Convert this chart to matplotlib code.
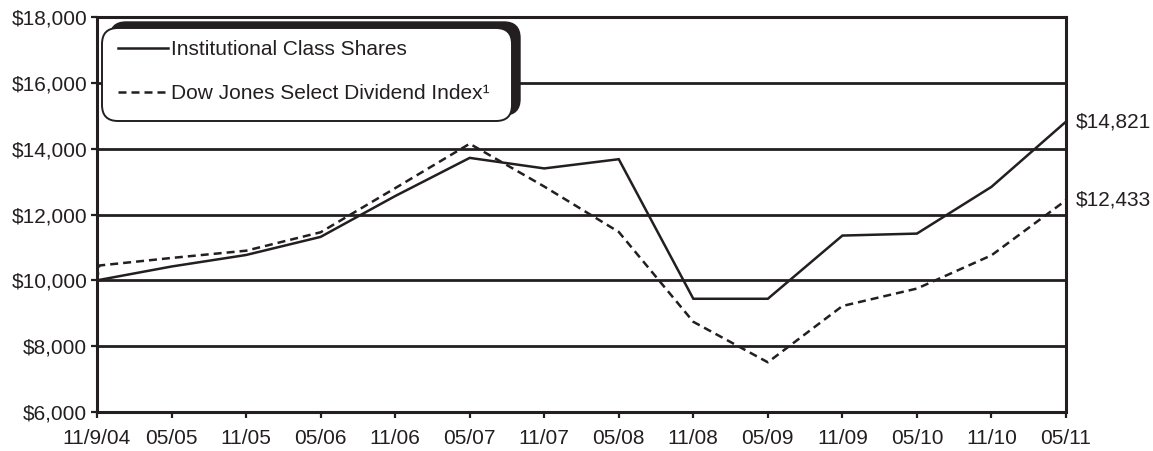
import matplotlib
matplotlib.use("Agg")
import matplotlib.pyplot as plt
from matplotlib.patches import FancyBboxPatch
from matplotlib.lines import Line2D
from matplotlib.transforms import Affine2D
from matplotlib.ticker import FuncFormatter

plt.rcParams['font.family'] = ['Liberation Sans', 'DejaVu Sans']

# Semiannual period labels
periods = ["11/9/04", "05/05", "11/05", "05/06", "11/06", "05/07", "11/07",
           "05/08", "11/08", "05/09", "11/09", "05/10", "11/10", "05/11"]

# Growth of a $10,000 investment
fund_x = list(range(14))
fund_values = [10000, 10420, 10770, 11320, 12560, 13720, 13400,
               13680, 9440, 9440, 11360, 11420, 12840, 14821]

index_x = [0, 0.03] + list(range(1, 14))
index_values = [10000, 10450, 10680, 10900, 11460, 12800, 14150, 12850,
                11470, 8740, 7510, 9220, 9750, 10760, 12433]

fund_label = "Institutional Class Shares"
index_label = "Dow Jones Select Dividend Index\u00b9"

INK = "#231f20"
W, H = 1153, 451

fig = plt.figure(figsize=(W / 100, H / 100), dpi=100)
ax = fig.add_axes([97 / W, (H - 412) / H, 969 / W, 395 / H])

ax.set_xlim(0, 13)
ax.set_ylim(6000, 18000)
ax.set_xticks(range(len(periods)))
ax.set_xticklabels(periods)
ax.set_yticks(range(6000, 18001, 2000))
ax.yaxis.set_major_formatter(FuncFormatter(lambda v, p: f"${v:,.0f}"))

ax.grid(axis='y', color=INK, linewidth=2.0, zorder=1)
ax.set_axisbelow(True)
for sp in ax.spines.values():
    sp.set_color(INK)
    sp.set_linewidth(2.2)

ax.tick_params(axis='both', direction='out', length=4, width=1.6, color=INK,
               labelsize=15, labelcolor=INK)
ax.tick_params(axis='x', pad=8.5)
ax.tick_params(axis='y', pad=3)

ax.plot(fund_x, fund_values, color=INK, linewidth=1.8, zorder=3,
        solid_joinstyle='miter', label=fund_label)
ax.plot(index_x, index_values, color=INK, linewidth=1.8, zorder=3,
        linestyle=(0, (3.2, 2.0)), label=index_label)

# End-of-period value labels
for xs, vals in ((fund_x, fund_values), (index_x, index_values)):
    ax.annotate(f"${vals[-1]:,.0f}", xy=(xs[-1], vals[-1]), xytext=(7, 0),
                textcoords='offset points', va='center', ha='left',
                fontsize=15, color=INK, annotation_clip=False)

# Legend box with heavy offset shadow, placed in figure pixel coordinates
pix = Affine2D().scale(1, -1).translate(0, H) + Affine2D().scale(1 / W, 1 / H) + fig.transFigure
shadow = FancyBboxPatch((110, 22), 410, 93, boxstyle="round,pad=0,rounding_size=16",
                        transform=pix, facecolor=INK, edgecolor=INK, zorder=5)
box = FancyBboxPatch((102, 28), 410, 93, boxstyle="round,pad=0,rounding_size=16",
                     transform=pix, facecolor='white', edgecolor=INK, linewidth=1.4, zorder=6)
fig.add_artist(shadow)
fig.add_artist(box)

handles = [Line2D([], [], color=INK, linewidth=1.8),
           Line2D([], [], color=INK, linewidth=1.8, linestyle=(0, (3.2, 2.0)))]
leg = fig.legend(handles, [fund_label, index_label], loc='upper left',
                 bbox_to_anchor=(118, 40), bbox_transform=pix, frameon=False,
                 fontsize=15, handlelength=2.4, handletextpad=0.15,
                 labelspacing=1.2, borderpad=0, borderaxespad=0)
leg.set_zorder(7)
for t in leg.get_texts():
    t.set_color(INK)

fig.savefig("out.png", dpi=100, facecolor='white')
